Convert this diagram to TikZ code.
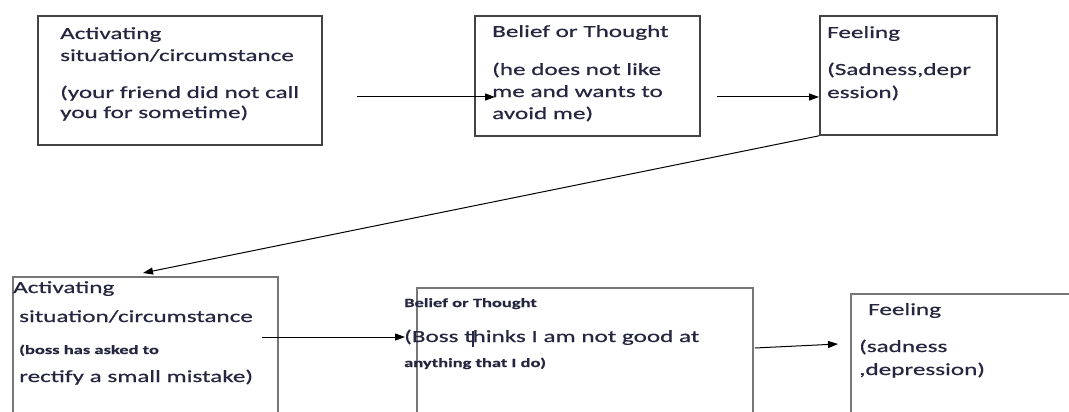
\documentclass[tikz,border=0pt]{standalone}
\usepackage{fontspec}
\usetikzlibrary{arrows.meta,calc}
\newfontfamily\boxfont[FakeStretch=1.48,FakeBold=0.6]{Carlito}
\definecolor{inknavy}{HTML}{262640}
\definecolor{framegray}{HTML}{444444}
\definecolor{framelight}{HTML}{777777}

\tikzset{
  stepbox/.style={draw=framegray, line width=1.8pt, inner sep=0pt, anchor=north west},
  lowbox/.style={stepbox, draw=framelight},
  maintxt/.style={anchor=base west, inner sep=0pt, text=inknavy,
                  font=\boxfont\fontsize{17}{20}\selectfont},
  smalltxt/.style={maintxt, font=\boxfont\bfseries\fontsize{12.5}{15}\selectfont},
  flow/.style={-{Triangle[length=10pt,width=7pt]}, line width=1pt, black},
}

\begin{document}
\begin{tikzpicture}[x=1pt,y=-1pt]
  \clip (0,0) rectangle (1069,412);
  \fill[white] (0,0) rectangle (1069,412);
  % first chain
  \node[stepbox, minimum width=284, minimum height=129] (act1) at (37,15) {};
  \node[stepbox, minimum width=225, minimum height=120] (bel1) at (474,15) {};
  \node[stepbox, minimum width=177, minimum height=119] (feel1) at (819,15) {};
  \node[maintxt] (act1head) at (60,39) {Activating};
  \node[maintxt] (act1sit) at (60,61) {situation/circumstance};
  \node[maintxt] (act1ex) at (60,98) {(your friend did not call};
  \node[maintxt] (act1exb) at (60,118) {you for sometime)};
  \node[maintxt] (bel1head) at (492,37) {Belief or Thought};
  \node[maintxt] (bel1ex) at (492,75) {(he does not like};
  \node[maintxt] (bel1exb) at (492,97) {me and wants to};
  \node[maintxt] (bel1exc) at (492,119) {avoid me)};
  \node[maintxt] (feel1head) at (827,38) {Feeling};
  \node[maintxt] (feel1ex) at (827,75) {(Sadness,depr};
  \node[maintxt] (feel1exb) at (827,98) {ession)};
  % second chain
  \node[lowbox, minimum width=265, minimum height=150] (act2) at (12,276) {};
  \node[lowbox, minimum width=336, minimum height=140] (bel2) at (416,287) {};
  \node[lowbox, minimum width=240, minimum height=130] (feel2) at (850,293) {};
  \node[maintxt] (act2head) at (13,293) {Activating};
  \node[maintxt] (act2sit) at (19,322) {situation/circumstance};
  \node[smalltxt] (act2ex) at (19,354) {(boss has asked to};
  \node[maintxt] (act2exb) at (19,382) {rectify a small mistake)};
  \node[smalltxt] (bel2head) at (404,307) {Belief or Thought};
  \node[maintxt] (bel2ex) at (404,342) {(Boss thinks I am not good at};
  \node[smalltxt] (bel2exb) at (404,367) {anything that I do)};
  \node[maintxt] (feel2head) at (868,315) {Feeling};
  \node[maintxt] (feel2ex) at (859,352) {(sadness};
  \node[maintxt] (feel2exb) at (859,375) {,depression)};
  \draw[line width=1.2pt, inknavy] (473,331) -- (473,347);
  % arrows
  \coordinate (a1out) at ($(act1.north east)+(34,82)$);
  \coordinate (b1in) at ($(bel1.north west)+(21,82)$);
  \coordinate (b1out) at ($(bel1.north east)+(16,82)$);
  \draw[flow] (a1out) -- (b1in);
  \draw[flow] (b1out) -- (feel1.west |- b1out);
  \draw[flow] (feel1.south west) -- ([shift={(131,-3)}]act2.north west);
  \coordinate (a2out) at ($(act2.north west)+(250,61)$);
  \coordinate (b2in) at ($(bel2.north west)+(-11,50)$);
  \coordinate (b2out) at ($(bel2.north east)+(1,61)$);
  \draw[flow] (a2out) -- (b2in);
  \draw[flow] (b2out) -- ([shift={(-12,51)}]feel2.north west);
\end{tikzpicture}
\end{document}
